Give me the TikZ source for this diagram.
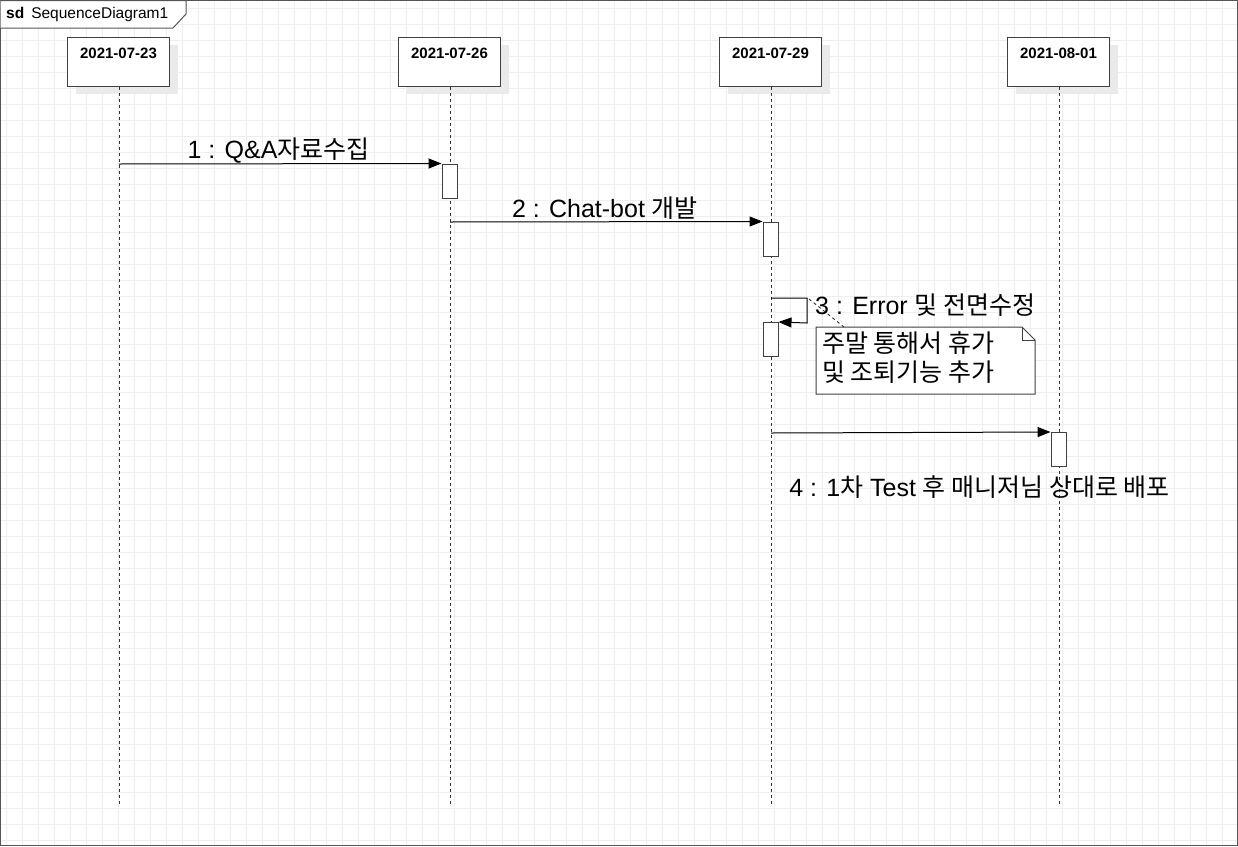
\documentclass[tikz,border=0pt]{standalone}
\usepackage{fontspec}
\setmainfont{Liberation Sans}
\newfontfamily\kr{Noto Sans CJK KR}
\usetikzlibrary{arrows.meta,shadows}
\definecolor{gridc}{HTML}{EEEEEE}
\definecolor{framec}{HTML}{555555}
\definecolor{shadowc}{HTML}{EAEAEA}
\tikzset{
  head/.style={draw=black!75, line width=1pt, fill=white, minimum width=102pt, minimum height=49pt, inner sep=0pt,
    drop shadow={shadow xshift=8pt, shadow yshift=-7pt, fill=shadowc, opacity=1}},
  headtxt/.style={font=\bfseries\fontsize{15}{18}\selectfont, inner sep=0pt},
  life/.style={black!80, line width=0.9pt, dash pattern=on 3pt off 3pt},
  act/.style={draw=black!75, line width=1pt, fill=white, minimum width=15pt, minimum height=34pt, inner sep=0pt},
  msg/.style={line width=1pt, -{Triangle[length=13pt,width=10pt]}},
  mlabel/.style={font=\fontsize{25}{30}\selectfont, inner sep=0pt},
  notebox/.style={draw=black!75, line width=1pt, fill=white},
}
\begin{document}
\begin{tikzpicture}[x=1pt,y=-1pt]
\useasboundingbox (0,0) rectangle (1238,846);
\fill[white] (0,0) rectangle (1238,846);
% grid
\foreach \i in {0,...,77} {\draw[gridc, line width=1pt] (6+16*\i,0) -- (6+16*\i,846);}
\foreach \j in {0,...,52} {\draw[gridc, line width=1pt] (0,8+16*\j) -- (1238,8+16*\j);}
% frame
\draw[framec, line width=1.2pt] (0.6,0.6) rectangle (1237.4,845.4);
\draw[framec, line width=1pt, fill=white] (0.6,0.6) -- (186,0.6) -- (186,14) -- (173,28) -- (0.6,28);
\node[anchor=west, inner sep=0pt, font=\fontsize{15.5}{18}\selectfont] (sdlbl) at (6,14) {\textbf{sd}\hspace{7pt}SequenceDiagram1};
% heads
\node[head] (h1) at (118.5,62) {};
\node[head] (h2) at (449.5,62) {};
\node[head] (h3) at (770.5,62) {};
\node[head] (h4) at (1058.5,62) {};
\node[headtxt] (t1) at ([yshift=-16pt]h1.north) {2021-07-23};
\node[headtxt] (t2) at ([yshift=-16pt]h2.north) {2021-07-26};
\node[headtxt] (t3) at ([yshift=-16pt]h3.north) {2021-07-29};
\node[headtxt] (t4) at ([yshift=-16pt]h4.north) {2021-08-01};
% lifeline ends
\coordinate (e1) at (119,805);
\coordinate (e2) at (450,805);
\coordinate (e3) at (771,805);
\coordinate (e4) at (1059,805);
\draw[life] (119,87) -- (e1);
\draw[life] (450,87) -- (e2);
\draw[life] (771,87) -- (e3);
\draw[life] (1059,87) -- (e4);
% activations
\node[act] (a1) at (449.5,181) {};
\node[act] (a2) at (770.5,239) {};
\node[act] (a3) at (770.5,339.5) {};
\node[act] (a4) at (1058.5,449.5) {};
% message start points
\coordinate (s1) at (119,164);
\coordinate (s2) at (450,222);
\coordinate (s3) at (771,298);
\coordinate (s4) at (771,433);
% messages
\draw[msg] (s1) -- (a1.north west);
\node[mlabel] (l1) at (278.5,151) {1 : Q\&A{\kr 자료수집}};
\draw[msg] (s2) -- (a2.north west);
\node[mlabel] (l2) at (605,208) {2 : Chat-bot {\kr 개발}};
\draw[msg] (s3) -- (807,298) -- (807,323) -- (a3.north east);
\node[mlabel, anchor=west] (l3) at (815,305) {3 : Error {\kr 및 전면수정}};
\draw[msg] (s4) -- (a4.north west);
\node[mlabel] (l4) at (979.5,487) {4 : 1{\kr 차} Test {\kr 후 매니저님 상대로 배포}};
% note
\draw[notebox] (816,327) -- (1022,327) -- (1035,340) -- (1035,394) -- (816,394) -- cycle;
\draw[black!75, line width=1pt] (1022,327) -- (1022,340) -- (1035,340);
\coordinate (nt) at (844,327);
\node[mlabel, anchor=north west, align=left, font=\kr\fontsize{25}{29}\selectfont] (note) at (822,331) {주말 통해서 휴가\\및 조퇴기능 추가};
\draw[black!80, line width=0.9pt, dash pattern=on 3pt off 3pt] (l3.west) ++(-6pt,6pt) coordinate (nc) (nc) -- (nt);
\end{tikzpicture}
\end{document}
